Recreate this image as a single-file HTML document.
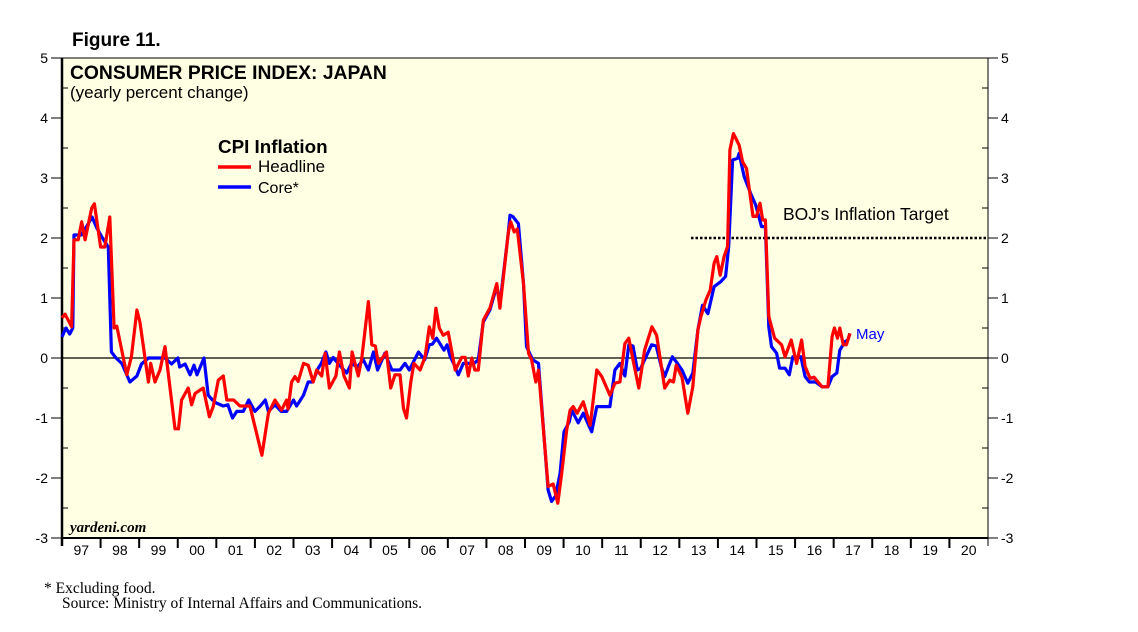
<!DOCTYPE html>
<html><head><meta charset="utf-8"><style>
body{margin:0;background:#fff;width:1138px;height:632px;overflow:hidden}
svg{display:block}
text{font-family:"Liberation Sans",sans-serif}
</style></head><body>
<svg id="chart" width="1138" height="632">
<text x="72" y="46" font-size="19" font-weight="bold">Figure 11.</text>
<rect x="62" y="58" width="926" height="480" fill="#FFFFE3" stroke="#000" stroke-width="1"/>
<g id="axes"></g>
<line x1="62" y1="358" x2="988" y2="358" stroke="#000" stroke-width="1.2"/>
<line x1="691" y1="238" x2="988" y2="238" stroke="#000" stroke-width="2.5" stroke-dasharray="2.5,2"/>
<text x="783" y="220" font-size="17.5">BOJ’s Inflation Target</text>
<g id="series"></g>
<text x="856" y="339" font-size="15" fill="#0000FF">May</text>
<text x="70" y="79" font-size="19.3" font-weight="bold">CONSUMER PRICE INDEX: JAPAN</text>
<text x="70" y="98" font-size="17">(yearly percent change)</text>
<text x="218" y="153" font-size="18.8" font-weight="bold">CPI Inflation</text>
<line x1="218" y1="167" x2="251" y2="167" stroke="#FF0000" stroke-width="3.5"/>
<text x="258" y="172" font-size="17">Headline</text>
<line x1="218" y1="187" x2="251" y2="187" stroke="#0000FF" stroke-width="3.5"/>
<text x="258" y="193" font-size="16">Core*</text>
<text x="70" y="532" font-size="15" font-weight="bold" font-style="italic" style="font-family:'Liberation Serif',serif">yardeni.com</text>
<text x="44" y="593" font-size="15.5" style="font-family:'Liberation Serif',serif">*   Excluding food.</text>
<text x="62" y="608" font-size="15.5" style="font-family:'Liberation Serif',serif">Source: Ministry of Internal Affairs and Communications.</text>
</svg>
<script>
const yTicks=[5,4,3,2,1,0,-1,-2,-3];
const yearLabels=["97","98","99","00","01","02","03","04","05","06","07","08","09","10","11","12","13","14","15","16","17","18","19","20"];
const headlineT=[1997.0,1997.08,1997.25,1997.31,1997.42,1997.51,1997.6,1997.77,1997.84,1998.0,1998.11,1998.24,1998.35,1998.42,1998.68,1998.8,1998.94,1999.02,1999.24,1999.3,1999.41,1999.54,1999.67,1999.93,2000.02,2000.1,2000.27,2000.36,2000.45,2000.66,2000.82,2000.92,2001.05,2001.18,2001.27,2001.45,2001.61,2001.87,2002.18,2002.35,2002.52,2002.69,2002.82,2002.86,2002.95,2003.04,2003.12,2003.26,2003.38,2003.51,2003.6,2003.73,2003.82,2003.93,2004.1,2004.19,2004.31,2004.45,2004.52,2004.68,2004.77,2004.94,2005.03,2005.12,2005.2,2005.41,2005.52,2005.63,2005.76,2005.85,2005.93,2006.04,2006.12,2006.28,2006.41,2006.52,2006.61,2006.69,2006.78,2006.88,2007.01,2007.19,2007.36,2007.45,2007.53,2007.62,2007.7,2007.79,2007.92,2008.09,2008.27,2008.35,2008.57,2008.63,2008.72,2008.8,2008.96,2009.09,2009.17,2009.28,2009.35,2009.6,2009.73,2009.85,2009.95,2010.08,2010.17,2010.25,2010.35,2010.51,2010.69,2010.86,2010.99,2011.2,2011.33,2011.46,2011.59,2011.69,2011.8,2011.95,2012.1,2012.29,2012.41,2012.62,2012.75,2012.85,2012.92,2013.07,2013.22,2013.35,2013.48,2013.56,2013.69,2013.8,2013.9,2013.97,2014.06,2014.16,2014.25,2014.31,2014.4,2014.55,2014.64,2014.74,2014.91,2015.0,2015.09,2015.16,2015.23,2015.32,2015.47,2015.65,2015.74,2015.9,2016.04,2016.17,2016.26,2016.39,2016.49,2016.7,2016.85,2016.96,2017.02,2017.1,2017.16,2017.25,2017.33,2017.42];
const headlineV=[0.67,0.73,0.52,1.97,1.97,2.27,1.97,2.5,2.57,1.85,1.85,2.35,0.5,0.53,-0.28,0.02,0.8,0.6,-0.4,-0.09,-0.4,-0.2,0.19,-1.18,-1.18,-0.7,-0.5,-0.78,-0.59,-0.5,-0.98,-0.81,-0.37,-0.3,-0.7,-0.7,-0.8,-0.8,-1.62,-0.92,-0.7,-0.87,-0.7,-0.85,-0.4,-0.31,-0.39,-0.09,-0.12,-0.4,-0.2,-0.3,0.08,-0.5,-0.3,0.1,-0.3,-0.5,0.1,-0.3,0,0.94,0.22,0.2,-0.09,0.1,-0.5,-0.28,-0.28,-0.84,-1.0,-0.4,-0.09,-0.2,0.02,0.52,0.33,0.83,0.5,0.38,0.43,-0.2,0.01,0.01,-0.3,0,-0.2,-0.2,0.63,0.83,1.24,0.83,2.1,2.27,2.1,2.15,1.24,0.08,-0.03,-0.4,-0.2,-2.14,-2.1,-2.42,-1.92,-1.2,-0.87,-0.81,-0.92,-0.73,-1.12,-0.2,-0.31,-0.62,-0.42,-0.4,0.24,0.33,-0.03,-0.5,0.13,0.52,0.38,-0.5,-0.37,-0.4,-0.12,-0.32,-0.92,-0.48,0.47,0.69,0.97,1.13,1.58,1.69,1.38,1.69,1.86,3.47,3.74,3.55,3.27,3.16,2.36,2.36,2.58,2.3,2.3,0.69,0.33,0.22,0.02,0.3,-0.09,0.3,-0.14,-0.34,-0.32,-0.48,-0.48,0.36,0.5,0.33,0.5,0.22,0.22,0.41];
const coreT=[1997.0,1997.1,1997.2,1997.28,1997.31,1997.5,1997.6,1997.78,1997.9,1998.05,1998.2,1998.28,1998.4,1998.55,1998.76,1998.94,1999.06,1999.24,1999.54,1999.67,1999.84,2000.0,2000.05,2000.19,2000.32,2000.42,2000.5,2000.68,2000.79,2000.9,2001.0,2001.18,2001.3,2001.42,2001.53,2001.7,2001.84,2002.0,2002.14,2002.27,2002.35,2002.52,2002.68,2002.82,2003.0,2003.08,2003.26,2003.38,2003.5,2003.64,2003.72,2003.84,2003.93,2004.03,2004.15,2004.38,2004.5,2004.65,2004.81,2004.94,2005.07,2005.18,2005.37,2005.55,2005.76,2005.89,2006.0,2006.24,2006.4,2006.52,2006.6,2006.71,2006.9,2006.98,2007.06,2007.15,2007.27,2007.4,2007.68,2007.79,2007.92,2008.09,2008.27,2008.35,2008.57,2008.61,2008.68,2008.83,2008.96,2009.04,2009.2,2009.35,2009.6,2009.69,2009.79,2009.91,2010.01,2010.15,2010.21,2010.38,2010.51,2010.65,2010.73,2010.86,2011.2,2011.33,2011.46,2011.59,2011.69,2011.8,2011.91,2012.0,2012.1,2012.28,2012.4,2012.53,2012.62,2012.72,2012.82,2012.95,2013.07,2013.22,2013.35,2013.48,2013.6,2013.74,2013.9,2014.07,2014.2,2014.28,2014.38,2014.51,2014.55,2014.68,2014.85,2014.98,2015.13,2015.23,2015.32,2015.39,2015.52,2015.6,2015.74,2015.85,2015.94,2016.04,2016.15,2016.26,2016.37,2016.53,2016.7,2016.85,2016.96,2017.08,2017.16,2017.29,2017.37,2017.42];
const coreV=[0.35,0.5,0.4,0.5,2.05,2.05,2.15,2.35,2.17,2.0,1.85,0.1,0.0,-0.09,-0.4,-0.3,-0.1,0,0,0,-0.1,0,-0.15,-0.1,-0.28,-0.12,-0.28,0,-0.62,-0.7,-0.75,-0.8,-0.78,-1.0,-0.89,-0.89,-0.7,-0.89,-0.8,-0.7,-0.89,-0.78,-0.89,-0.89,-0.7,-0.8,-0.62,-0.4,-0.4,-0.17,-0.09,0.1,-0.09,0.01,-0.09,-0.25,-0.09,-0.15,-0.03,-0.2,0.1,-0.2,0.08,-0.2,-0.2,-0.09,-0.2,0.1,-0.03,0.22,0.23,0.33,0.13,0.22,0.03,-0.09,-0.28,-0.09,-0.09,-0.03,0.6,0.8,1.2,0.9,2.1,2.38,2.36,2.24,1.24,0.19,-0.03,-0.09,-2.2,-2.39,-2.3,-1.92,-1.23,-1.06,-0.87,-1.08,-0.92,-1.12,-1.23,-0.81,-0.81,-0.2,-0.09,-0.3,0.22,0.2,-0.2,-0.17,-0.03,0.22,0.2,-0.14,-0.31,-0.14,0.02,-0.09,-0.2,-0.42,-0.25,0.47,0.88,0.74,1.19,1.27,1.36,1.86,3.3,3.33,3.41,3.02,2.74,2.55,2.19,2.19,0.52,0.19,0.08,-0.17,-0.17,-0.28,0.02,0,0.02,-0.31,-0.4,-0.4,-0.48,-0.48,-0.31,-0.25,0.13,0.27,0.3,0.41];

const NS='http://www.w3.org/2000/svg';
const L=62,R=988,T=58,B=538,Y0=1997,Y1=2021,VMIN=-3,VMAX=5;
function xs(t){return L+(t-Y0)*(R-L)/(Y1-Y0);}
function ys(v){return B-(v-VMIN)*(B-T)/(VMAX-VMIN);}
function mk(tag,attrs,parent){const e=document.createElementNS(NS,tag);for(const k in attrs)e.setAttribute(k,attrs[k]);parent.appendChild(e);return e;}
const axes=document.getElementById('axes');
mk('line',{x1:L,y1:T,x2:L,y2:B+8,stroke:'#000','stroke-width':2.5},axes);
mk('line',{x1:R,y1:T,x2:R,y2:B+8,stroke:'#000','stroke-width':1},axes);
mk('line',{x1:L,y1:B,x2:R,y2:B,stroke:'#000','stroke-width':2},axes);
yTicks.forEach(v=>{
  const y=ys(v);
  mk('line',{x1:L-11,y1:y,x2:L,y2:y,stroke:'#000','stroke-width':1},axes);
  mk('line',{x1:R,y1:y,x2:R+10,y2:y,stroke:'#000','stroke-width':1},axes);
  const t1=mk('text',{x:L-14,y:y+5,'font-size':14,'text-anchor':'end'},axes);t1.textContent=v;
  
  
  const t2=mk('text',{x:R+13,y:y+5,'font-size':14},axes);t2.textContent=v;
  
  
  if(v>VMIN){const ym=ys(v-0.5);
    mk('line',{x1:L,y1:ym,x2:L+6,y2:ym,stroke:'#000','stroke-width':1},axes);
    mk('line',{x1:R-6,y1:ym,x2:R,y2:ym,stroke:'#000','stroke-width':1},axes);}
});
yearLabels.forEach((lab,i)=>{
  const xb=xs(Y0+i);
  if(i>0)mk('line',{x1:xb,y1:B,x2:xb,y2:B+10,stroke:'#000','stroke-width':2},axes);
  const t=mk('text',{x:xs(Y0+i+0.5),y:B+17,'font-size':14,'text-anchor':'middle'},axes);t.textContent=lab;
  
  
});
const sg=document.getElementById('series');
function drawLine(ts,vs,color,name){
  const pts=ts.map((t,i)=>xs(t).toFixed(1)+','+ys(vs[i]).toFixed(1)).join(' ');
  const p=mk('polyline',{points:pts,fill:'none',stroke:color,'stroke-width':3.2,'stroke-linejoin':'round'},sg);
  
  
}
drawLine(coreT,coreV,'#0000FF','core-cpi-line');
drawLine(headlineT,headlineV,'#FF0000','headline-cpi-line');
</script>
</body></html>
